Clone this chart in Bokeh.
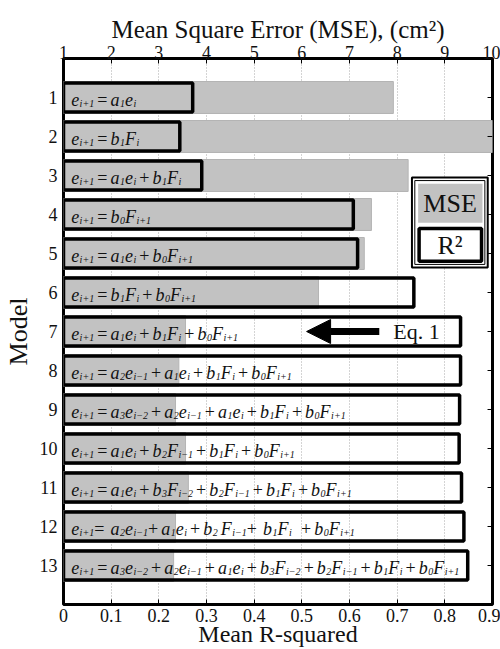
from bokeh.plotting import figure
from bokeh.models import (Range1d, LinearAxis, FixedTicker, NumeralTickFormatter,
                          BoxAnnotation, Label, Arrow, NormalHead, ColumnDataSource)
from bokeh.core.properties import value
from bokeh.embed import file_html
from bokeh.resources import INLINE

# ---------------- data ----------------
models = list(range(1, 14))
mse = [7.92, 10.0, 8.23, 7.46, 7.31, 6.35, 3.56, 3.42, 3.35, 3.56, 3.62, 3.35, 3.31]
r2 = [0.271, 0.244, 0.290, 0.608, 0.617, 0.735, 0.833, 0.833, 0.831, 0.830, 0.835, 0.840, 0.848]
equations_raw = [
    "e_{i+1} = a_{1}e_{i}",
    "e_{i+1} = b_{1}F_{i}",
    "e_{i+1} = a_{1}e_{i} + b_{1}F_{i}",
    "e_{i+1} = b_{0}F_{i+1}",
    "e_{i+1} = a_{1}e_{i} + b_{0}F_{i+1}",
    "e_{i+1} = b_{1}F_{i} + b_{0}F_{i+1}",
    "e_{i+1} = a_{1}e_{i} + b_{1}F_{i} + b_{0}F_{i+1}",
    "e_{i+1} = a_{2}e_{i-1} + a_{1}e_{i} + b_{1}F_{i} + b_{0}F_{i+1}",
    "e_{i+1} = a_{3}e_{i-2} + a_{2}e_{i-1} + a_{1}e_{i} + b_{1}F_{i} + b_{0}F_{i+1}",
    "e_{i+1} = a_{1}e_{i} + b_{2}F_{i-1} + b_{1}F_{i} + b_{0}F_{i+1}",
    "e_{i+1} = a_{1}e_{i} + b_{3}F_{i-2} + b_{2}F_{i-1} + b_{1}F_{i} + b_{0}F_{i+1}",
    "e_{i+1}=  a_{2}e_{i-1}+ a_{1}e_{i} + b_{2} F_{i-1}+  b_{1}F_{i}   + b_{0}F_{i+1}",
    "e_{i+1} = a_{3}e_{i-2} + a_{2}e_{i-1} + a_{1}e_{i} + b_{3}F_{i-2} + b_{2}F_{i-1} + b_{1}F_{i} + b_{0}F_{i+1}",
]
mse_ticks = [1, 2, 3, 4, 5, 6, 7, 8, 9, 10]
r2_ticks = [0, 0.1, 0.2, 0.3, 0.4, 0.5, 0.6, 0.7, 0.8, 0.9]

FONT = "Liberation Serif"
GRAY = "#c2c2c2"
INK = "#111111"

# ---- typesetting of the equations (Times-metric advance widths, in em) ----
MAIN_PX, SUB_PX, SPACE_EM = 18, 10, 0.17
W_MAIN = {"a": 0.5, "b": 0.5, "e": 0.444, "F": 0.611}
W_OP = {"=": 0.564, "+": 0.564}
W_SUB = {"i": 0.278, "+": 0.675, "-": 0.675, "0": 0.5, "1": 0.5, "2": 0.5, "3": 0.5}

main_pieces = dict(y=[], t=[], dx=[])
op_pieces = dict(y=[], t=[], dx=[])
sub_pieces = dict(y=[], t=[], dx=[])
for row, s in zip(models, equations_raw):
    pos, k = 0.0, 0
    while k < len(s):
        if s.startswith("_{", k):
            end = s.index("}", k)
            body = s[k + 2:end]
            sub_pieces["y"].append(row)
            sub_pieces["t"].append(body.replace("-", "\u2212"))
            sub_pieces["dx"].append(pos + 0.5)
            pos += sum(W_SUB[c] for c in body) * SUB_PX + 0.5
            k = end + 1
            continue
        c = s[k]
        if c == " ":
            pos += SPACE_EM * MAIN_PX
        elif c in W_MAIN:
            main_pieces["y"].append(row)
            main_pieces["t"].append(c)
            main_pieces["dx"].append(pos)
            pos += W_MAIN[c] * MAIN_PX
        else:
            op_pieces["y"].append(row)
            op_pieces["t"].append(c)
            op_pieces["dx"].append(pos)
            pos += W_OP[c] * MAIN_PX
        k += 1

TEXT_X0 = 0.016  # start of equations, in R-squared units

src = ColumnDataSource(dict(model=models, mse=mse, r2=r2,
                            mse_left=[1] * len(models), r2_left=[0] * len(models)))

p = figure(width=500, height=649, x_range=Range1d(0, 0.9), y_range=Range1d(14, 0),
           output_backend="svg", toolbar_location=None,
           min_border_left=60, min_border_right=8, min_border_top=58, min_border_bottom=45)
p.background_fill_color = "white"
p.border_fill_color = "white"
p.outline_line_color = "black"
p.outline_line_width = 3
p.outline_line_alpha = 1

p.extra_x_ranges = {"mse": Range1d(1, 10)}

# bars
p.hbar(y="model", left="mse_left", right="mse", height=0.82, source=src,
       x_range_name="mse", fill_color=GRAY, line_color="#b4b4b4", line_width=1)
p.hbar(y="model", left="r2_left", right="r2", height=0.74, source=src,
       fill_color=None, line_color="black", line_width=3.5)

# equations
for pieces, style, size, yoff in [(main_pieces, "italic", MAIN_PX, 2),
                                  (op_pieces, "normal", MAIN_PX, 2),
                                  (sub_pieces, "italic", SUB_PX, 6)]:
    n = len(pieces["t"])
    ps = ColumnDataSource(dict(x=[TEXT_X0] * n, y=pieces["y"], t=pieces["t"], dx=pieces["dx"]))
    p.text(x="x", y="y", text="t", x_offset="dx", y_offset=yoff, source=ps,
           text_font=value(FONT), text_font_style=style, text_font_size=f"{size}px",
           text_baseline="alphabetic", text_align="left", text_color=INK)

# right-hand inward ticks at each model row
tick_len = 5 * (p.x_range.end - p.x_range.start) / 432.0
p.segment(x0=[p.x_range.end] * len(models), x1=[p.x_range.end - tick_len] * len(models),
          y0=models, y1=models, line_color="black", line_width=1)

# axes
bottom = p.xaxis[0]
bottom.ticker = FixedTicker(ticks=r2_ticks)
bottom.formatter = NumeralTickFormatter(format="0.[0]")
bottom.axis_label = "Mean R-squared"
left = p.yaxis[0]
left.ticker = FixedTicker(ticks=models)
left.axis_label = "Model"

top = LinearAxis(x_range_name="mse", ticker=FixedTicker(ticks=mse_ticks),
                 axis_label="Mean Square Error (MSE), (cm\u00b2)")
p.add_layout(top, "above")

for ax in [bottom, left, top]:
    ax.axis_line_color = None
    ax.minor_tick_line_color = None
    ax.major_tick_out = 0
    ax.major_tick_in = 5
    ax.major_tick_line_color = "black"
    ax.major_tick_line_width = 1
    ax.major_label_text_font = FONT
    ax.major_label_text_font_size = "18px"
    ax.major_label_text_color = INK
    ax.axis_label_text_font = FONT
    ax.axis_label_text_font_style = "normal"
    ax.axis_label_text_color = INK
left.major_tick_in = 0
left.major_label_standoff = 6
left.axis_label_text_font_size = "26px"
left.axis_label_standoff = 4
bottom.major_label_standoff = 4
bottom.axis_label_text_font_size = "24px"
bottom.axis_label_standoff = -4
top.major_label_standoff = 0
top.axis_label_text_font_size = "25px"
top.axis_label_standoff = 0

p.ygrid.visible = False
p.xgrid.ticker = FixedTicker(ticks=r2_ticks)
p.xgrid.grid_line_color = "#a8a8a8"
p.xgrid.grid_line_dash = "1 2"
p.xgrid.grid_line_width = 1

# legend (drawn as annotations)
p.add_layout(BoxAnnotation(left=0.731, right=0.890, top=3.05, bottom=5.36,
                           fill_color="white", fill_alpha=1, line_color="black",
                           line_alpha=1, line_width=2))
p.add_layout(BoxAnnotation(left=0.737, right=0.884, top=3.13, bottom=5.28,
                           fill_color=None, line_color="black", line_alpha=1, line_width=1))
p.add_layout(BoxAnnotation(left=0.744, right=0.879, top=3.21, bottom=4.21,
                           fill_color=GRAY, fill_alpha=1, line_color=None))
p.add_layout(BoxAnnotation(left=0.746, right=0.877, top=4.36, bottom=5.20,
                           fill_color="white", fill_alpha=1, line_color="black",
                           line_alpha=1, line_width=3.5))
p.add_layout(Label(x=0.811, y=3.71, text="MSE", text_font=FONT, text_font_size="26px",
                   text_align="center", text_baseline="middle", text_color=INK))
p.add_layout(Label(x=0.811, y=4.80, text="R\u00b2", text_font=FONT, text_font_size="26px",
                   text_align="center", text_baseline="middle", text_color=INK))

# Eq. 1 arrow
p.add_layout(Arrow(end=NormalHead(size=24, fill_color="black", line_color="black"),
                   x_start=0.6625, y_start=7, x_end=0.51, y_end=7,
                   line_width=7, line_color="black"))
p.add_layout(Label(x=0.692, y=7, text="Eq. 1", text_font=FONT, text_font_size="22px",
                   text_align="left", text_baseline="middle", text_color=INK))

open("out.html", "w").write(file_html(p, INLINE))
